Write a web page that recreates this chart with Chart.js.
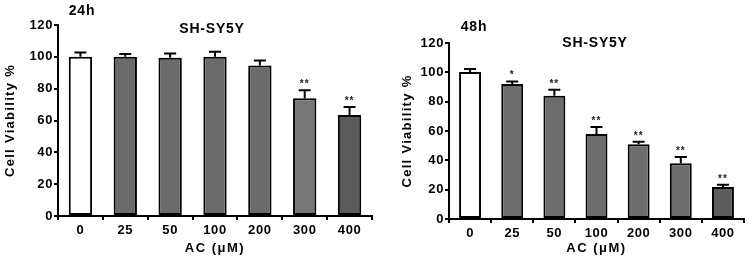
<!DOCTYPE html>
<html><head><meta charset="utf-8">
<script src="https://cdn.jsdelivr.net/npm/chart.js@4/dist/chart.umd.min.js"></script>
<style>
html,body{margin:0;padding:0;background:#fff;}
#wrap{position:relative;width:754px;height:257px;}
.c{position:absolute;top:0;width:377px;height:257px;}
</style></head><body>
<div id="wrap">
<div class="c" style="left:0"><canvas id="c1"></canvas></div>
<div class="c" style="left:377px"><canvas id="c2"></canvas></div>
</div>
<script>
const categories = ['0','25','50','100','200','300','400'];
const yTicks = [0,20,40,60,80,100,120];
const viability24 = [100, 100, 99.5, 100, 94.5, 74, 63.5];
const error24 = [2.8, 1.8, 2.6, 3.2, 3.2, 5, 5];
const signif24 = ['', '', '', '', '', '**', '**'];
const viability48 = [100.2, 92, 84, 58, 51, 38, 21.8];
const error48 = [2, 1.8, 4.2, 4.8, 1.6, 4.2, 1.6];
const signif48 = ['', '*', '**', '**', '**', '**', '**'];
const colors24 = ['#ffffff','#6b6b6b','#6b6b6b','#6b6b6b','#6b6b6b','#777777','#5a5a5a'];
const colors48 = ['#ffffff','#6d6d6d','#6d6d6d','#6d6d6d','#6d6d6d','#6d6d6d','#5c5c5c'];

const FONT = '"Liberation Sans", Arial, sans-serif';

const extras = {
  id: 'extras',
  beforeDraw(chart) { chart.ctx.letterSpacing = '0.6px'; },
  afterDatasetsDraw(chart, args, o) {
    const ctx = chart.ctx, x = chart.scales.x, y = chart.scales.y;
    const ds = chart.data.datasets[0];
    ctx.save();
    ctx.strokeStyle = '#000'; ctx.lineWidth = 2; ctx.fillStyle = '#000';
    ds.data.forEach((v, i) => {
      const cx = x.getPixelForValue(i);
      const yTop = y.getPixelForValue(v);
      const yErr = y.getPixelForValue(v + o.errors[i]);
      ctx.beginPath();
      ctx.moveTo(cx, yTop); ctx.lineTo(cx, yErr);
      ctx.moveTo(cx - 6, yErr); ctx.lineTo(cx + 6, yErr);
      ctx.stroke();
      if (o.signif[i]) {
        ctx.font = 'bold 10px ' + FONT;
        ctx.letterSpacing = '1px';
        ctx.fillStyle = '#222';
        ctx.textAlign = 'center'; ctx.textBaseline = 'alphabetic';
        ctx.fillText(o.signif[i], cx, yErr - 3);
      }
    });
    ctx.fillStyle = '#000';
    const a = chart.chartArea;
    ctx.textAlign = 'center'; ctx.textBaseline = 'middle';
    ctx.letterSpacing = '0.8px';
    ctx.font = 'bold 14px ' + FONT;
    ctx.fillText(o.time, o.timeX, o.timeY);
    ctx.fillText('SH-SY5Y', o.titleX, o.titleY);
    ctx.font = 'bold 13px ' + FONT;
    ctx.letterSpacing = '1.5px';
    ctx.fillText('AC (\u03bcM)', (a.left + a.right) / 2, 248);
    ctx.save();
    ctx.translate(o.yTitleX, (a.top + a.bottom) / 2);
    ctx.rotate(-Math.PI / 2);
    ctx.letterSpacing = '1.3px';
    ctx.fillText('Cell Viability %', 0, 0);
    ctx.restore();
    ctx.restore();
  }
};

function makeChart(id, values, errors, signif, colors, cfg) {
  return new Chart(document.getElementById(id), {
    type: 'bar',
    data: {
      labels: categories,
      datasets: [{
        data: values,
        backgroundColor: colors,
        borderColor: '#000',
        borderWidth: 2,
        borderSkipped: false,
        categoryPercentage: 1,
        barPercentage: 0.52
      }]
    },
    options: {
      responsive: false,
      animation: false,
      devicePixelRatio: 1,
      layout: { padding: { top: cfg.top, right: cfg.right, left: 0, bottom: 0 } },
      plugins: {
        legend: { display: false },
        tooltip: { enabled: false },
        extras: { errors, signif, time: cfg.time, timeX: cfg.timeX, timeY: cfg.timeY,
                  titleX: cfg.titleX, titleY: cfg.titleY, yTitleX: cfg.yTitleX }
      },
      scales: {
        x: {
          grid: { display: true, drawOnChartArea: false, tickLength: 4, color: '#000', lineWidth: 2 },
          border: { display: true, color: '#000', width: 2 },
          ticks: { color: '#000', font: { family: FONT, size: 13, weight: 'bold' }, padding: 3, maxRotation: 0 },
          afterFit(s) { s.height = cfg.xH; }
        },
        y: {
          min: 0, max: 120,
          afterBuildTicks(s) { s.ticks = yTicks.map(v => ({ value: v })); },
          grid: { display: true, drawOnChartArea: false, tickLength: 4, color: '#000', lineWidth: 2 },
          border: { display: true, color: '#000', width: 2 },
          ticks: { color: '#000', font: { family: FONT, size: 13, weight: 'bold' }, padding: 1 },
          afterFit(s) { s.width = cfg.yW; }
        }
      }
    },
    plugins: [extras]
  });
}

document.getElementById('c1').width = 377; document.getElementById('c1').height = 257;
document.getElementById('c2').width = 377; document.getElementById('c2').height = 257;

makeChart('c1', viability24, error24, signif24, colors24,
  { top: 25, right: 5, xH: 41, yW: 58, time: '24h', timeX: 82, timeY: 11, titleX: 212, titleY: 29, yTitleX: 10 });
makeChart('c2', viability48, error48, signif48, colors48,
  { top: 43, right: 10, xH: 38, yW: 72, time: '48h', timeX: 97, timeY: 27, titleX: 218, titleY: 43, yTitleX: 30 });
</script>
</body></html>
